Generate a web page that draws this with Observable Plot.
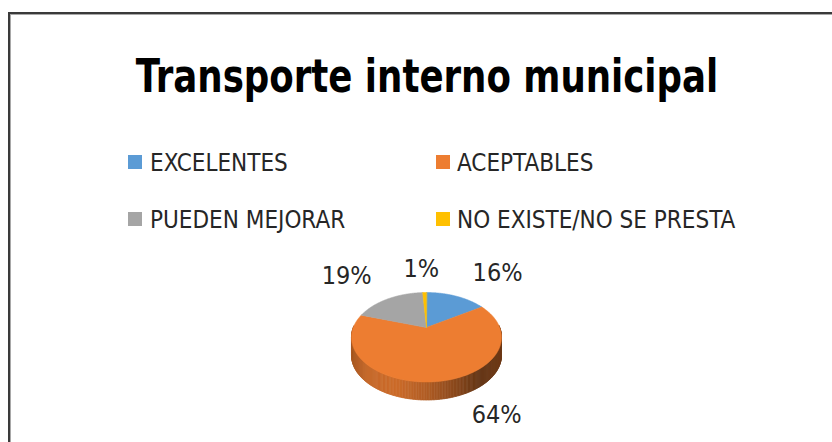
<!DOCTYPE html>
<html>
<head>
<meta charset="utf-8">
<script src="https://cdn.jsdelivr.net/npm/d3@7"></script>
<script src="https://cdn.jsdelivr.net/npm/@observablehq/plot@0.6"></script>
<style>
  html, body { margin: 0; padding: 0; background: #fff; }
  body { width: 832px; height: 442px; overflow: hidden; position: relative; }
  #frame {
    position: absolute; left: 8px; top: 12px; width: 834px; height: 480px;
    border-top: 2px solid #3a3a3a; border-left: 2px solid #3a3a3a;
    box-shadow: inset 1px 1px 0 #a8a8a8;
    font-family: "Liberation Sans Narrow", "DejaVu Sans Condensed", "Arial Narrow", sans-serif;
  }
  #title {
    position: absolute; left: 0; top: 39px; width: 834px; text-align: center;
    font-size: 46px; line-height: 46px; font-weight: bold; color: #000;
    transform: scaleX(0.86); transform-origin: 417px 0;
  }
  .leg { position: absolute; font-size: 24px; line-height: 24px; color: #262626; white-space: nowrap; }
  .sw { position: absolute; width: 14px; height: 14px; }
  #chart { position: absolute; left: 0; top: 226px; }
</style>
</head>
<body>
<div id="frame">
  <div id="title"></div>
  <div id="legend"></div>
  <div id="chart"></div>
</div>
<script>
// ---- data ----
const title = "Transporte interno municipal";
const categories = ["EXCELENTES", "ACEPTABLES", "PUEDEN MEJORAR", "NO EXISTE/NO SE PRESTA"];
const values = [16, 64, 19, 1];
const labels = ["16%", "64%", "19%", "1%"];
const palette = ["#5b9bd5", "#ed7d31", "#a5a5a5", "#ffc000"];

// ---- layout / style constants ----
const W = 834, H = 216;
const cx = 416, cy = 87;          // pie tip (pixels in svg)
const A = 73.2, B = 42.6;         // projected radii
const K = 0.218;                  // perspective factor
const depthPx = 18;
const dz = depthPx / B;
const labelFont = 25;

document.getElementById("title").textContent = title;

// legend (2 x 2)
const legend = document.getElementById("legend");
const legCols = [118, 426], legTextCols = [140, 447], legRows = [137, 194];
categories.forEach((c, i) => {
  const col = i % 2, row = Math.floor(i / 2);
  const sw = document.createElement("div");
  sw.className = "sw";
  sw.style.left = legCols[col] + "px";
  sw.style.top = (legRows[row] + 4) + "px";
  sw.style.background = palette[i];
  legend.appendChild(sw);
  const t = document.createElement("div");
  t.className = "leg";
  t.style.left = legTextCols[col] + "px";
  t.style.top = legRows[row] + "px";
  t.textContent = c;
  legend.appendChild(t);
});

// ---- geometry ----
function proj(theta) {
  const u = Math.sin(theta), w = Math.cos(theta);
  const den = 1 + K * w;
  return [u / den, w / den];
}
const arcs = d3.pie().sort(null).startAngle(0).endAngle(2 * Math.PI)(values);
const step = Math.PI / 360;

// top faces
const topRows = [];
arcs.forEach((a, i) => {
  const key = "top" + i;
  topRows.push({key, x: 0, y: 0, fill: palette[i]});
  const n = Math.max(2, Math.ceil((a.endAngle - a.startAngle) / step));
  for (let k = 0; k <= n; k++) {
    const th = a.startAngle + (a.endAngle - a.startAngle) * k / n;
    const [x, y] = proj(th);
    topRows.push({key, x, y, fill: palette[i]});
  }
});

// side wall strips with shading
const shadeT = [0, 0.1, 0.3, 0.5, 0.7, 0.85, 1];
const shadeM = [0.71, 0.83, 0.86, 0.74, 0.57, 0.42, 0.47];
const shadeScale = d3.scaleLinear().domain(shadeT).range(shadeM).clamp(true);
function shade(base, t) {
  const c = d3.rgb(base), m = shadeScale(t);
  return d3.rgb(c.r * m, c.g * m, c.b * m).formatHex();
}
const sideRows = [];
const f0 = Math.PI / 2 - 0.05, f1 = 3 * Math.PI / 2 + 0.05;
let sid = 0;
arcs.forEach((a, i) => {
  const s = Math.max(a.startAngle, f0), e = Math.min(a.endAngle, f1);
  if (e <= s) return;
  const n = Math.ceil((e - s) / (Math.PI / 180));
  for (let k = 0; k < n; k++) {
    const t0 = s + (e - s) * k / n, t1 = s + (e - s) * (k + 1) / n;
    const p0 = proj(t0), p1 = proj(t1);
    const xm = (p0[0] + p1[0]) / 2;
    const fill = shade(palette[i], (xm + 1.025) / 2.05);
    const key = "side" + (sid++);
    sideRows.push({key, x: p0[0], y: p0[1], fill});
    sideRows.push({key, x: p1[0], y: p1[1], fill});
    sideRows.push({key, x: p1[0], y: p1[1] - dz, fill});
    sideRows.push({key, x: p0[0], y: p0[1] - dz, fill});
  }
});

// labels (outside end)
const gapTopX = 19, gapTopY = 12, gapBottom = 36;
const labelRows = arcs.map((a, i) => {
  const m = (a.startAngle + a.endAngle) / 2;
  let [x, y] = proj(m);
  const front = Math.cos(m) < 0;
  if (front) y -= dz;
  const halfW = labels[i].length * 0.3 * labelFont;
  const halfH = labelFont * 0.45;
  const sx = Math.sin(m) >= 0 ? 1 : -1;
  const fx = front ? 1 : Math.min(1, Math.abs(Math.sin(m)) * 3);
  const offX = sx * fx * (halfW + (front ? gapBottom : gapTopX));
  const offY = front ? (halfH + 4) : -(halfH + gapTopY);
  return {x: x + offX / A, y: y - offY / B, text: labels[i]};
});

const chart = Plot.plot({
  width: W, height: H,
  margin: 0,
  x: {domain: [-1, 1], range: [cx - A, cx + A], axis: null},
  y: {domain: [-1, 1], range: [cy + B, cy - B], axis: null},
  color: {type: "identity"},
  style: {background: "transparent", overflow: "visible"},
  marks: [
    Plot.line(sideRows, {x: "x", y: "y", z: "key", fill: "fill", stroke: "fill", strokeWidth: 0.7, curve: "linear-closed"}),
    Plot.line(topRows, {x: "x", y: "y", z: "key", fill: "fill", stroke: "fill", strokeWidth: 0.6, curve: "linear-closed"}),
    Plot.text(labelRows, {x: "x", y: "y", text: "text", fontSize: labelFont, fill: "#262626",
      fontFamily: "Liberation Sans Narrow, DejaVu Sans Condensed, sans-serif", textAnchor: "middle", lineAnchor: "middle"})
  ]
});
document.getElementById("chart").appendChild(chart);
</script>
</body>
</html>
